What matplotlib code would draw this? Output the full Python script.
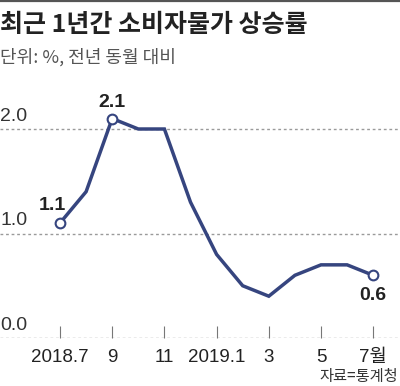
import matplotlib
matplotlib.use("Agg")
import matplotlib.pyplot as plt
from matplotlib import font_manager as fm
import matplotlib.transforms as mtransforms

months = ["2018.7", "8", "9", "10", "11", "12", "2019.1", "2", "3", "4", "5", "6", "7월"]
values = [1.1, 1.4, 2.1, 2.0, 2.0, 1.3, 0.8, 0.5, 0.4, 0.6, 0.7, 0.7, 0.6]
tick_idx = [0, 2, 4, 6, 8, 10, 12]
yticks = [0.0, 1.0, 2.0]
ytick_labels = ["0.0", "1.0", "2.0"]
label_idx = [0, 2, 12]

names = {f.name for f in fm.fontManager.ttflist}
narrow = "Liberation Sans Narrow" if "Liberation Sans Narrow" in names else "Liberation Sans"
kr = "Noto Sans CJK KR"

W, H = 400, 386
fig = plt.figure(figsize=(W / 100, H / 100), dpi=100)

# top rule
fig.add_artist(plt.Line2D([0, 1], [1 - 1 / H, 1 - 1 / H], color="#555555", lw=1.6))

fig.text(0.0, 1 - 25 / H, "최근 1년간 소비자물가 상승률", family=[kr, "DejaVu Sans"],
         fontsize=18, fontweight="bold", color="#222222", va="center", ha="left")
fig.text(0.0, 1 - 57 / H, "단위: %, 전년 동월 대비", family=[kr, "DejaVu Sans"],
         fontsize=13, color="#555555", va="center", ha="left", fontweight="light")
fig.text(0.995, 1 - 377 / H, "자료=통계청", family=[kr, "DejaVu Sans"],
         fontsize=11, color="#333333", va="center", ha="right")

bottom = (H - 338) / H
top = (H - 90) / H
ax = fig.add_axes([0, bottom, 1, top - bottom])
ax.set_xlim(-60 / 26.1, (400 - 60) / 26.1)
ax.set_ylim(0, (338 - 90) / 104.5)
for s in ax.spines.values():
    s.set_visible(False)

for y in yticks:
    ax.axhline(y, color="#9a9a9a", lw=1.0, ls=(0, (2, 2)), zorder=1)

trans = mtransforms.blended_transform_factory(fig.transFigure, ax.transData)
for y, lab in zip(yticks, ytick_labels):
    ax.text(0.0, y + 0.04, lab, transform=trans, family=narrow, fontsize=14,
            color="#333333", ha="left", va="bottom")

ax.set_yticks([])
ax.set_xticks(tick_idx)
ax.set_xticklabels([months[i] for i in tick_idx], family=[narrow, kr], fontsize=13.5, color="#222222")
ax.tick_params(axis="x", direction="in", length=9, width=0.8, color="#777777", pad=8)

xs = list(range(len(values)))
ax.plot(xs, values, color="#36457f", lw=2.5, zorder=3, solid_joinstyle="miter", clip_on=False)
ax.plot([xs[i] for i in label_idx], [values[i] for i in label_idx], "o", ms=7,
        mfc="white", mec="#36457f", mew=1.5, zorder=4, clip_on=False)

offsets = {0: (-8, 18), 2: (0, 16), 12: (0, -20)}
for i in label_idx:
    dx, dy = offsets[i]
    ax.annotate(f"{values[i]:.1f}", (xs[i], values[i]), xytext=(dx, dy),
                textcoords="offset pixels", ha="center", va="center",
                family=narrow, fontsize=14, fontweight="bold", color="#222222")

fig.savefig("out.png", dpi=100)
